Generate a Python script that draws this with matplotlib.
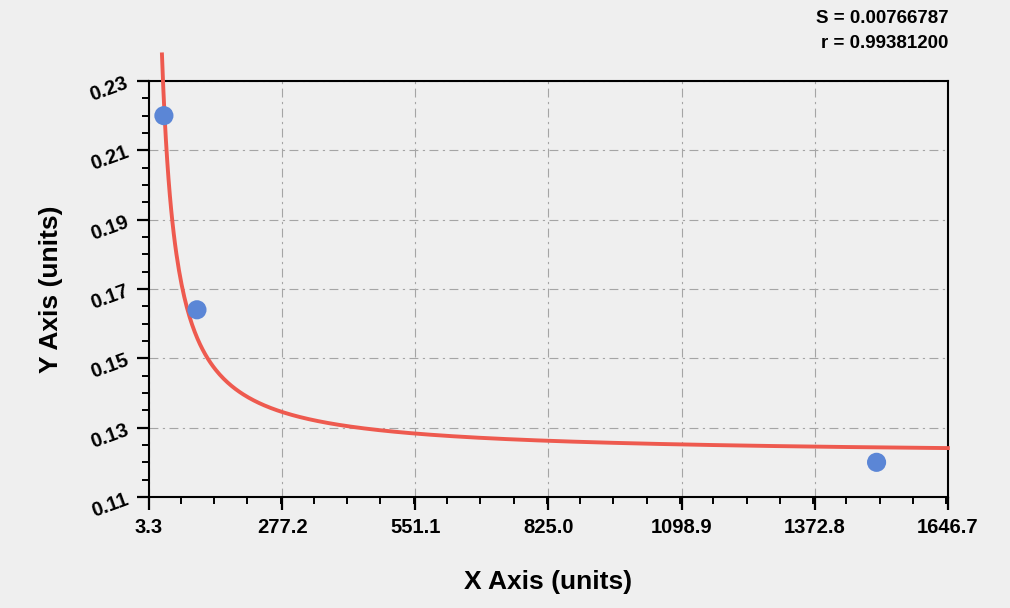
import numpy as np
import matplotlib.pyplot as plt
from matplotlib.ticker import MultipleLocator, FixedLocator

# measured standards
x_obs = [34.0, 102.0, 1500.0]
y_obs = [0.220, 0.164, 0.120]

# fitted curve y = a + b / x
fit_a = 0.1220
fit_b = 3.47
fit_x_start = 30.0
fit_x_end = 1646.7

stat_lines = ["S = 0.00766787", "r = 0.99381200"]

x_ticks = [3.3, 277.2, 551.1, 825.0, 1098.9, 1372.8, 1646.7]
y_ticks = [0.11, 0.13, 0.15, 0.17, 0.19, 0.21, 0.23]

plt.rcParams['font.family'] = ['Liberation Sans', 'DejaVu Sans']
bg = '#efefef'

fig = plt.figure(figsize=(10.1, 6.08), dpi=100, facecolor=bg)
ax = fig.add_axes([0.1475, 0.1826, 0.791, 0.6842], facecolor=bg)

xs = np.linspace(fit_x_start, fit_x_end, 600)
ax.plot(xs, fit_a + fit_b / xs, color='#ee5a4f', lw=2.8, clip_on=False, zorder=3)
ax.scatter(x_obs, y_obs, s=190, color='#5b86d6', edgecolors='none', zorder=4)

ax.set_xlim(x_ticks[0], x_ticks[-1])
ax.set_ylim(y_ticks[0], y_ticks[-1])
ax.xaxis.set_major_locator(FixedLocator(x_ticks))
ax.xaxis.set_minor_locator(MultipleLocator((x_ticks[1] - x_ticks[0]) / 4))
ax.yaxis.set_major_locator(FixedLocator(y_ticks))
ax.yaxis.set_minor_locator(MultipleLocator(0.005))
ax.set_xticklabels([f"{v:.1f}" for v in x_ticks])
ax.set_yticklabels([f"{v:.2f}" for v in y_ticks])

ax.tick_params(which='major', direction='out', length=9, width=1.6, labelsize=14.5, pad=6)
ax.tick_params(axis='y', which='major', pad=4)
ax.tick_params(which='minor', direction='out', length=5, width=1.4)
ax.tick_params(axis='y', labelrotation=20)
for lbl in ax.get_xticklabels() + ax.get_yticklabels():
    lbl.set_fontweight('bold')

for sp in ax.spines.values():
    sp.set_linewidth(1.5)
    sp.set_color('black')

ax.grid(True, which='major', color='#a5a5a5', lw=0.8, linestyle=(0, (8, 4, 2, 4)))

ax.set_xlabel("X Axis (units)", fontsize=19, fontweight='bold', labelpad=24)
ax.set_ylabel("Y Axis (units)", fontsize=19, fontweight='bold', labelpad=18)

fig.text(0.939, 0.970, stat_lines[0], ha='right', va='center', fontsize=13.5, fontweight='bold')
fig.text(0.939, 0.929, stat_lines[1], ha='right', va='center', fontsize=13.5, fontweight='bold')

fig.savefig("out.png", dpi=100, facecolor=bg)
